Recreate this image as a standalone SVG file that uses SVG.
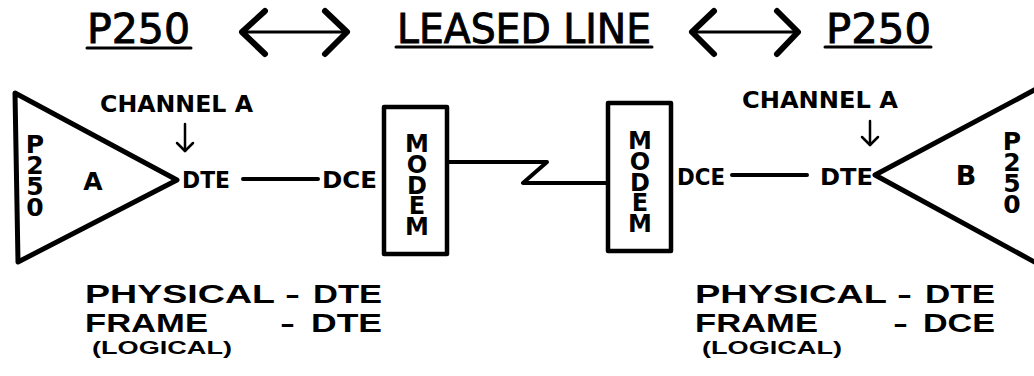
<svg xmlns="http://www.w3.org/2000/svg" width="1034" height="376" viewBox="0 0 1034 376">
<style>
.t{font-family:"DejaVu Sans","Liberation Sans",sans-serif;fill:#000}
.r{font-family:"Liberation Sans","DejaVu Sans",sans-serif;font-weight:bold;fill:#000}
.h{font-size:40px;font-weight:normal;stroke:#000;stroke-width:0.9}
.b{font-weight:bold}
.s{fill:none;stroke:#000;stroke-linecap:round;stroke-linejoin:round}
.v{font-family:"DejaVu Sans","Liberation Sans",sans-serif;font-weight:bold;fill:#000;text-anchor:middle}
.vt{font-family:"DejaVu Sans","Liberation Sans",sans-serif;font-weight:bold;fill:#000;writing-mode:vertical-rl;text-orientation:upright}
</style>
<rect width="1034" height="376" fill="#fff"/>
<g id="title">
<text class="t h" x="87" y="43" textLength="103" lengthAdjust="spacingAndGlyphs">P250</text>
<line class="s" x1="87" y1="48" x2="191" y2="48" stroke-width="3"/>
<text class="t h" x="397" y="43" textLength="254" lengthAdjust="spacingAndGlyphs">LEASED LINE</text>
<line class="s" x1="396" y1="47" x2="652" y2="47" stroke-width="3"/>
<text class="t h" x="826" y="43" textLength="105" lengthAdjust="spacingAndGlyphs">P250</text>
<line class="s" x1="825" y1="47" x2="931" y2="47" stroke-width="3"/>
<g id="arrow-left">
<line class="s" x1="242" y1="32" x2="347" y2="32" stroke-width="3"/>
<polyline class="s" points="265,11 242,32 265,54" stroke-width="6"/>
<polyline class="s" points="325,11 347,32 325,54" stroke-width="6"/>
</g>
<g id="arrow-right">
<line class="s" x1="692" y1="32" x2="798" y2="32" stroke-width="3"/>
<polyline class="s" points="714,11 692,32 714,54" stroke-width="6"/>
<polyline class="s" points="777,11 798,32 777,54" stroke-width="6"/>
</g>
</g>
<g id="p250-a">
<polygon class="s" points="15,93 177,180 18,262" stroke-width="5"/>
<text class="vt" x="35" y="130" font-size="25" letter-spacing="-8">P250</text>
<text class="v" x="93" y="190" font-size="25">A</text>
</g>
<g id="channel-a-left">
<text class="t b" x="100" y="112" font-size="23" textLength="153" lengthAdjust="spacingAndGlyphs">CHANNEL A</text>
<line class="s" x1="185" y1="124" x2="185" y2="151" stroke-width="2.5"/>
<polyline class="s" points="177,143 185,151 193,143" stroke-width="2.5"/>
</g>
<g id="dte-a">
<text class="t b" x="182" y="188" font-size="23" textLength="48" lengthAdjust="spacingAndGlyphs">DTE</text>
</g>
<g id="dce-a">
<text class="t b" x="322" y="188" font-size="23" textLength="55" lengthAdjust="spacingAndGlyphs">DCE</text>
</g>
<g id="modem-1">
<rect class="s" x="384" y="107" width="63" height="147" stroke-width="4.5" stroke-linejoin="miter"/>
<text class="vt" x="417" y="130" font-size="24" letter-spacing="-7.2">MODEM</text>
</g>
<g id="modem-2">
<rect class="s" x="608" y="103" width="63" height="148" stroke-width="4.5" stroke-linejoin="miter"/>
<text class="vt" x="640" y="127" font-size="24" letter-spacing="-7.2">MODEM</text>
</g>
<g id="dce-b">
<text class="t b" x="677" y="185" font-size="23" textLength="48" lengthAdjust="spacingAndGlyphs">DCE</text>
</g>
<g id="dte-b">
<text class="t b" x="820" y="185" font-size="23" textLength="53" lengthAdjust="spacingAndGlyphs">DTE</text>
</g>
<g id="channel-a-right">
<text class="t b" x="742" y="108" font-size="23" textLength="156" lengthAdjust="spacingAndGlyphs">CHANNEL A</text>
<line class="s" x1="870" y1="121" x2="870" y2="145" stroke-width="2.5"/>
<polyline class="s" points="862,137 870,145 878,137" stroke-width="2.5"/>
</g>
<g id="p250-b">
<polygon class="s" points="1040,87 875,175 1040,265" stroke-width="5"/>
<text class="v" x="966" y="185" font-size="27">B</text>
<text class="vt" x="1012" y="127" font-size="25" letter-spacing="-8">P250</text>
</g>
<g id="connectors">
<line class="s" x1="243" y1="179" x2="318" y2="179" stroke-width="4" stroke-linecap="butt"/>
<polyline class="s" points="449,162 547,162 523,183 607,183" stroke-width="4" stroke-linejoin="miter" stroke-linecap="butt"/>
<line class="s" x1="732" y1="175" x2="807" y2="175" stroke-width="4" stroke-linecap="butt"/>
</g>
<g id="roles-a">
<text class="r" font-size="25.5"><tspan x="85" y="303" textLength="190" lengthAdjust="spacingAndGlyphs">PHYSICAL</tspan><tspan x="285" y="303" textLength="15" lengthAdjust="spacingAndGlyphs">-</tspan><tspan x="313" y="303" textLength="69" lengthAdjust="spacingAndGlyphs">DTE</tspan><tspan x="85" y="332" textLength="123" lengthAdjust="spacingAndGlyphs">FRAME</tspan><tspan x="280" y="332" textLength="15" lengthAdjust="spacingAndGlyphs">-</tspan><tspan x="311" y="332" textLength="71" lengthAdjust="spacingAndGlyphs">DTE</tspan></text>
<text class="r" x="92" y="354" font-size="19" textLength="140" lengthAdjust="spacingAndGlyphs">(LOGICAL)</text>
</g>
<g id="roles-b">
<text class="r" font-size="25.5"><tspan x="695" y="303" textLength="192" lengthAdjust="spacingAndGlyphs">PHYSICAL</tspan><tspan x="897" y="303" textLength="15" lengthAdjust="spacingAndGlyphs">-</tspan><tspan x="925" y="303" textLength="70" lengthAdjust="spacingAndGlyphs">DTE</tspan><tspan x="695" y="332" textLength="123" lengthAdjust="spacingAndGlyphs">FRAME</tspan><tspan x="893" y="332" textLength="15" lengthAdjust="spacingAndGlyphs">-</tspan><tspan x="923" y="332" textLength="72" lengthAdjust="spacingAndGlyphs">DCE</tspan></text>
<text class="r" x="702" y="354" font-size="19" textLength="140" lengthAdjust="spacingAndGlyphs">(LOGICAL)</text>
</g>
</svg>
